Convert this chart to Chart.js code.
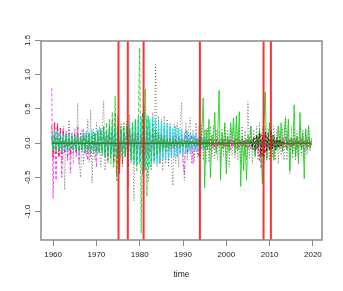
<!DOCTYPE html>
<html>
<head>
<meta charset="utf-8">
<script src="https://cdn.jsdelivr.net/npm/chart.js@4/dist/chart.umd.min.js"></script>
<style>
  html, body { margin: 0; padding: 0; background: #fff; }
  canvas { display: block; }
</style>
</head>
<body>
<canvas id="chart01" width="343" height="291"></canvas>
<script>
// series sampled every 1/3 year, each row = one year (t-1/3, t, t+1/3)
const step = 1 / 3
const fullStart = 1959 + 2 / 3

const grayDotted = [
  0.10,-0.25,0.20, -0.15,0.30,-0.20, 0.18,-0.30,0.25, -0.68,0.15,-0.22, 0.34,-0.20,0.12,
  -0.30,0.22,-0.15, 0.58,-0.25,-0.50, 0.20,-0.30,0.15, -0.20,0.35,-0.28, 0.49,-0.58,0.20,
  -0.25,0.30,-0.15, 0.25,-0.35,0.22, 0.62,-0.40,0.18, -0.30,0.28,-0.22, 0.35,-0.25,0.20,
  -0.30,0.40,-0.45, 0.30,-0.35,0.25, -0.20,0.32,-0.64, 0.42,-0.30,0.25, -0.84,0.35,-0.25,
  0.40,-0.30,0.30, -0.45,0.55,-0.40, 0.35,-0.55,0.30, -0.40,0.45,-0.30, 1.15,-0.35,0.40,
  -0.30,0.35,-0.40, 0.40,-0.30,0.35, -0.35,0.30,-0.25, -0.62,0.28,-0.30, 0.30,-0.35,0.25,
  0.59,-0.30,-0.54, 0.30,-0.25,0.22, 0.37,-0.30,0.20, -0.25,0.30,-0.20, 0.25,-0.22,0.30,
  -0.25,0.20,-0.30, 0.22,-0.28,0.25, -0.20,0.25,-0.22, 0.20,-0.25,0.18, -0.28,0.22,-0.20,
  0.25,-0.30,0.20, -0.35,0.22,-0.18, 0.25,-0.22,0.30, -0.25,0.22,-0.30, 0.25,-0.20,0.18,
  -0.25,0.61,-0.22, 0.25,-0.30,0.20, -0.18,0.25,-0.25, 0.30,-0.25,0.22, -0.30,0.25,-0.22,
  0.22,-0.25,0.20, -0.20,0.25,-0.25, 0.20,-0.30,0.18, -0.18,0.22,-0.25, 0.39,-0.25,0.20,
  -0.45,0.25,-0.22, 0.22,-0.25,0.18, -0.20,0.25,-0.18, 0.20,-0.25,0.22, -0.18,0.22,-0.12, 0.08
]

const redDashed = [
  0.25,-0.20,0.30, -0.15,0.28,-0.20, 0.22,-0.15,0.18, -0.12,0.15,-0.10, 0.12,-0.15,0.10,
  -0.10,0.14,-0.12, 0.15,-0.12,0.10, -0.10,0.12,-0.14, 0.10,-0.12,0.15, -0.15,0.12,-0.10,
  0.14,-0.12,0.10, -0.12,0.15,-0.10, 0.12,-0.15,0.14, -0.10,0.18,-0.15, 0.20,-0.25,0.15,
  -0.45,0.25,-0.38, 0.20,-0.30,0.15, -0.15,0.22,-0.12, 0.18,-0.15,0.12, -0.12,0.15,-0.10,
  0.15,-0.18,0.12, -0.20,0.25,-0.15, 0.18,-0.20,0.15, -0.12,0.15,-0.10, 0.12,-0.10,0.10,
  -0.10,0.12,-0.08, 0.10,-0.12,0.08, -0.08,0.10,-0.10, 0.10,-0.08,0.10, -0.10,0.08,-0.08,
  0.08,-0.10,0.10, -0.08,0.10,-0.06, 0.08,-0.06,0.08, -0.06,0.08,-0.06, 0.06,-0.08,0.06,
  -0.06,0.05,-0.06, 0.05,-0.04,0.06, -0.05,0.04,-0.05, 0.06,-0.05,0.04, -0.04,0.05,-0.06,
  0.05,-0.06,0.04, -0.05,0.06,-0.04, 0.04,-0.05,0.06, -0.06,0.05,-0.04, 0.05,-0.04,0.06,
  -0.05,0.06,-0.05, 0.06,-0.05,0.04, 0.08,-0.10,0.10, -0.25,0.15,-0.20, 0.12,-0.15,0.10,
  -0.08,0.06,-0.05, 0.06,-0.05,0.06, -0.05,0.06,-0.04, 0.05,-0.06,0.05, -0.06,0.05,-0.04,
  0.05,-0.06,0.05, -0.04,0.06,-0.05, 0.05,-0.04,0.06, -0.06,0.05,-0.04, 0.04,-0.05,0.04, -0.03
]

// 1960 - 1995
const greenDashed = [
  0.08,-0.10,0.12, -0.10,0.08,-0.08, 0.10,-0.08,0.06, -0.06,0.10,-0.08, 0.08,-0.06,0.10,
  -0.08,0.06,-0.10, 0.10,-0.12,0.08, -0.10,0.12,-0.08, 0.12,-0.10,0.15, -0.12,0.10,-0.15,
  0.15,-0.12,0.18, -0.15,0.20,-0.18, 0.25,-0.20,0.30, -0.25,0.35,-0.30, 0.45,-0.35,0.69,
  -0.55,0.40,-0.35, 0.25,-0.20,0.30, -0.20,0.25,-0.18, 0.22,-0.25,0.30, -0.30,0.35,-0.40,
  0.30,1.39,-1.32, 0.45,-0.40,0.79, -0.78,0.40,-0.35, -0.30,0.28,-0.25, 0.20,-0.18,0.15,
  -0.15,0.12,-0.10, 0.10,-0.12,0.08, -0.08,0.06,-0.06, 0.06,-0.05,0.06, -0.05,0.06,-0.05,
  0.05,-0.06,0.05, -0.05,0.04,-0.05, 0.05,-0.04,0.05, -0.04,0.05,-0.04, 0.04,-0.05,0.04,
  -0.04,0.04,-0.03
]

// 1994 - 2019
const greenSolid = [
  0.05,-0.08,0.15, 0.66,-0.65,0.20, -0.10,0.35,-0.50, 0.12,-0.05,0.45, -0.15,0.10,0.77,
  -0.54,0.15,-0.08, 0.30,-0.45,0.10, -0.12,0.30,0.05, 0.37,-0.15,0.40, -0.10,0.46,-0.63,
  0.10,-0.40,0.05, -0.54,0.12,-0.05, 0.25,-0.10,0.08, -0.20,0.12,-0.05, 0.20,-0.10,-0.59,
  0.30,0.75,-0.25, -0.08,0.30,-0.10, 0.12,-0.25,0.05, -0.10,0.25,-0.08, 0.30,-0.12,0.10,
  0.37,-0.10,0.35, -0.40,0.08,-0.15, 0.56,-0.20,0.10, -0.30,0.45,-0.10, 0.15,-0.52,0.20,
  -0.10,0.26,-0.08, 0.05
]

// 1960 - 1995
const cyanLine = [
  0.15,-0.10,0.20, -0.12,0.18,-0.10, 0.15,-0.12,0.12, -0.10,0.15,-0.12, 0.12,-0.10,0.15,
  -0.12,0.10,-0.08, 0.12,-0.15,0.10, -0.10,0.15,-0.12, 0.18,-0.12,0.15, -0.15,0.20,-0.10,
  0.15,-0.18,0.20, -0.12,0.22,-0.15, 0.20,-0.15,0.18, -0.18,0.25,-0.20, 0.22,-0.20,0.25,
  -0.22,0.18,-0.15, 0.20,-0.18,0.22, -0.20,0.25,-0.18, 0.30,-0.25,0.28, -0.28,0.32,-0.30,
  0.35,-0.30,0.40, -0.45,0.45,-0.35, 0.40,-0.37,0.35, -0.30,0.38,-0.28, 0.35,-0.30,0.32,
  -0.28,0.30,-0.25, 0.30,-0.25,0.28, -0.22,0.25,-0.20, 0.22,-0.20,0.25, -0.18,0.22,-0.15,
  0.20,-0.18,0.15, -0.15,0.18,-0.12, 0.15,-0.12,0.12, -0.12,0.15,-0.10, 0.10,-0.12,0.08,
  -0.08,0.10,-0.06
]

const magentaDashed = [
  0.80,-0.81,0.30, -0.54,0.25,-0.20, 0.22,-0.50,0.20, -0.15,0.18,-0.25, 0.20,-0.44,0.15,
  -0.15,0.12,-0.20, 0.25,-0.30,0.15, -0.12,0.20,-0.15, 0.15,-0.25,0.12, -0.20,0.15,-0.12,
  0.12,-0.35,0.15, -0.15,0.20,-0.12, 0.25,-0.20,0.15, -0.25,0.20,-0.15, 0.15,-0.30,0.45,
  -0.20,0.15,-0.45, 0.20,-0.15,0.15, -0.20,0.18,-0.35, 0.15,-0.12,0.20, -0.15,0.12,-0.30,
  0.20,-0.25,0.15, -0.20,0.18,-0.30, 0.25,-0.15,0.20, -0.25,0.15,-0.20, 0.18,-0.22,0.15,
  -0.30,0.20,-0.20, 0.22,-0.15,0.18, -0.25,0.15,-0.20, 0.15,-0.12,0.15, -0.20,0.12,-0.15,
  0.15,-0.25,-0.45, 0.20,-0.15,0.12, -0.15,0.12,-0.30, 0.10,-0.12,0.08, -0.20,0.10,-0.08,
  0.08,-0.10,0.06, -0.06,0.08,-0.10, 0.06,-0.08,0.06, -0.08,0.06,-0.05, 0.06,-0.08,0.05,
  -0.06,0.08,-0.05, 0.06,-0.10,0.05, -0.05,0.06,-0.08, 0.08,-0.06,0.05, -0.06,0.05,-0.08,
  0.06,-0.10,0.08, -0.08,0.06,-0.10, -0.12,0.10,-0.15, 0.15,-0.37,0.12, -0.25,0.15,-0.10,
  0.08,-0.10,0.06, -0.08,0.06,-0.10, 0.06,-0.08,0.10, -0.06,0.08,-0.06, 0.10,-0.08,0.06,
  -0.10,0.08,-0.06, 0.06,-0.15,0.08, -0.06,0.10,-0.08, 0.08,-0.12,0.06, -0.06,0.08,-0.05, 0.04
]

// 2006 - 2013
const blackLine = [
  0.03,-0.06,0.08, -0.10,0.12,-0.06, 0.14,-0.18,0.10, -0.20,0.16,-0.12,
  0.15,-0.10,0.18, -0.08,0.12,-0.10, 0.08,-0.06,0.05, -0.04,0.03,-0.02
]

const breaks = [1975.1, 1977.25, 1980.9, 1993.9, 2008.6, 2010.3]
const xTicks = [1960, 1970, 1980, 1990, 2000, 2010, 2020]
const yTicks = [-1.0, -0.5, 0.0, 0.5, 1.0, 1.5]

const xMin = 1957.2, xMax = 2022.1
const yMin = -1.413, yMax = 1.492

function toPts(start, vals) {
  return vals.map((v, i) => ({ x: start + i * step, y: v }))
}

const ctx1 = document.getElementById('chart01')

const tickFont = { family: 'Liberation Sans', size: 8 }

const datasets = []

// red break lines (on top)
breaks.forEach(b => {
  datasets.push({
    data: [{ x: b, y: yMin }, { x: b, y: yMax }],
    borderColor: 'rgba(255,0,0,0.8)',
    borderWidth: 2
  })
})

datasets.push({
  data: [{ x: fullStart, y: 0 }, { x: fullStart + 60, y: 0 }],
  borderColor: 'rgba(40,120,40,0.85)',
  borderWidth: 1.5
})
datasets.push({
  data: toPts(2005 + 2 / 3, blackLine),
  borderColor: 'rgba(0,0,0,0.75)',
  borderDash: [2, 2]
})
datasets.push({
  data: toPts(1993 + 2 / 3, greenSolid),
  borderColor: 'rgba(0,205,0,0.75)'
})
datasets.push({
  data: toPts(fullStart, greenDashed),
  borderColor: 'rgba(0,205,0,0.75)',
  borderDash: [4, 2]
})
datasets.push({
  data: toPts(fullStart, cyanLine),
  borderColor: 'rgba(0,235,235,0.75)'
})
datasets.push({
  data: toPts(fullStart, redDashed),
  borderColor: 'rgba(255,0,0,0.75)',
  borderDash: [3, 2]
})
datasets.push({
  data: toPts(fullStart, magentaDashed),
  borderColor: 'rgba(255,0,255,0.7)',
  borderDash: [3, 2]
})
datasets.push({
  data: toPts(fullStart, grayDotted),
  borderColor: 'rgba(0,0,0,0.5)',
  borderDash: [1, 2]
})

const boxPlugin = {
  id: 'box',
  afterDatasetsDraw(chart) {
    const a = chart.chartArea
    const c = chart.ctx
    c.save()
    c.strokeStyle = '#8a8a8a'
    c.lineWidth = 1.5
    c.strokeRect(a.left, a.top, a.right - a.left, a.bottom - a.top)
    c.restore()
  }
}

const maps = new Chart(ctx1, {
  type: 'line',
  data: { datasets: datasets },
  options: {
    responsive: false,
    animation: false,
    layout: { padding: { top: 41, right: 21, left: 0, bottom: 0 } },
    elements: {
      point: { radius: 0 },
      line: { tension: 0, borderWidth: 1 }
    },
    plugins: {
      legend: { display: false },
      tooltip: { enabled: false }
    },
    scales: {
      x: {
        type: 'linear',
        min: xMin,
        max: xMax,
        afterBuildTicks: s => { s.ticks = xTicks.map(v => ({ value: v })) },
        afterFit: s => { s.height = 51 },
        grid: { drawOnChartArea: false, color: '#8a8a8a', tickLength: 6 },
        border: { display: false },
        ticks: {
          color: '#222',
          font: tickFont,
          padding: 4,
          maxRotation: 0,
          callback: v => String(v)
        },
        title: {
          display: true,
          text: 'time',
          color: '#222',
          font: { family: 'Liberation Sans', size: 8.5 },
          padding: { top: 0, bottom: 11 }
        }
      },
      y: {
        type: 'linear',
        min: yMin,
        max: yMax,
        afterBuildTicks: s => { s.ticks = yTicks.map(v => ({ value: v })) },
        afterFit: s => { s.width = 41 },
        grid: { drawOnChartArea: false, color: '#8a8a8a', tickLength: 6 },
        border: { display: false },
        ticks: {
          color: '#222',
          font: tickFont,
          padding: 0,
          minRotation: 90,
          maxRotation: 90,
          crossAlign: 'center',
          callback: v => v.toFixed(1)
        }
      }
    }
  },
  plugins: [boxPlugin]
})
</script>
</body>
</html>
